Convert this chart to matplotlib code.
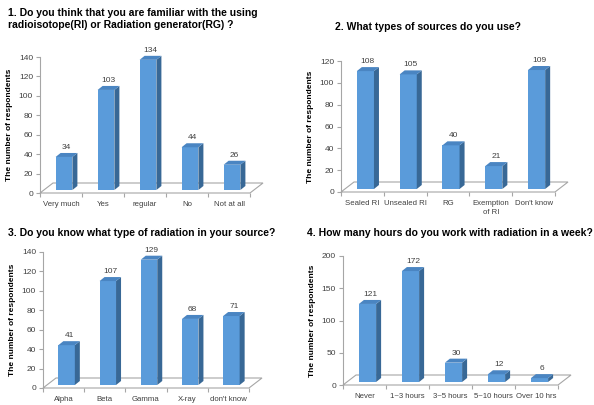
import numpy as np
from matplotlib import pyplot as plt
from matplotlib.patches import Polygon

# Survey answers, one list per question
q1_labels = ['Very much', 'Yes', 'regular', 'No', 'Not at all']
q1_values = [34, 103, 134, 44, 26]

q2_labels = ['Sealed RI', 'Unsealed RI', 'RG', 'Exemption\nof RI', "Don't know"]
q2_values = [108, 105, 40, 21, 109]

q3_labels = ['Alpha', 'Beta', 'Gamma', 'X-ray', "don't know"]
q3_values = [41, 107, 129, 68, 71]

q4_labels = ['Never', '1~3 hours', '3~5 hours', '5~10 hours', 'Over 10 hrs']
q4_values = [121, 172, 30, 12, 6]

W, H = 594, 405
FRONT = '#5a9bda'
SIDE = '#386896'
TOP = '#4a85c2'
AXIS = '#a6a6a6'
TXT = '#404040'

plt.rcParams['font.family'] = ['Liberation Sans', 'DejaVu Sans']

fig = plt.figure(figsize=(W/100., H/100.), dpi=100)


def px_box(l, t, r, b):
    return [l/W, 1 - b/H, (r - l)/W, (b - t)/H]


def bars_3d(box, labels, values, ymax, ystep, title, title_xy):
    l, t, r, b = box
    ax = fig.add_axes(px_box(l, t, r, b))
    n = len(values)
    ax.set_xlim(-0.5, n - 0.5)
    ax.set_ylim(0, ymax)
    # pixel -> data unit conversion for the fake depth
    sx = (r - l) / n
    sy = (b - t) / ymax
    fdx, fdy = 13 / sx, 10 / sy     # floor depth
    ox, oy = 3 / sx, 3 / sy         # bar offset into the floor
    bdx, bdy = 5 / sx, 4 / sy       # bar depth
    w = 0.4

    # floor
    floor = Polygon([(-0.5, 0), (n - 0.5, 0), (n - 0.5 + fdx, fdy), (-0.5 + fdx, fdy)],
                    closed=True, facecolor='white', edgecolor=AXIS, lw=0.8, clip_on=False)
    ax.add_patch(floor)

    for i, v in enumerate(values):
        x0 = i - w/2 + ox
        x1 = i + w/2 + ox
        y0 = oy
        y1 = v + oy
        ax.add_patch(Polygon([(x0, y0), (x1, y0), (x1, y1), (x0, y1)], closed=True,
                             facecolor=FRONT, edgecolor='none', clip_on=False, zorder=3))
        ax.add_patch(Polygon([(x1, y0), (x1 + bdx, y0 + bdy), (x1 + bdx, y1 + bdy), (x1, y1)],
                             closed=True, facecolor=SIDE, edgecolor='none', clip_on=False, zorder=3))
        ax.add_patch(Polygon([(x0, y1), (x1, y1), (x1 + bdx, y1 + bdy), (x0 + bdx, y1 + bdy)],
                             closed=True, facecolor=TOP, edgecolor='none', clip_on=False, zorder=3))
        ax.text(i + ox + bdx/2, y1 + bdy + 2/sy, str(v), ha='center', va='bottom',
                fontsize=6, color=TXT)

    for s in ['top', 'right', 'bottom']:
        ax.spines[s].set_visible(False)
    ax.spines['left'].set_color(AXIS)
    ax.spines['left'].set_linewidth(0.8)
    ax.set_yticks(np.arange(0, ymax + 1, ystep))
    ax.tick_params(axis='y', labelsize=6, colors=AXIS, labelcolor=TXT, length=3, width=0.8, pad=2)
    # category boundary ticks below the floor
    ax.set_xticks(np.arange(-0.5, n, 1.0))
    ax.set_xticks(np.arange(n), minor=True)
    ax.set_xticklabels([])
    ax.set_xticklabels(labels, minor=True)
    ax.tick_params(axis='x', which='major', length=3, width=0.8, colors=AXIS)
    ax.tick_params(axis='x', which='minor', length=0, labelsize=5.6, labelcolor=TXT, pad=6)
    for lab in ax.get_xticklabels(minor=True):
        lab.set_linespacing(1.4)
    ax.set_ylabel('The number of respondents', fontsize=6, fontweight='bold', labelpad=4)
    fig.text(title_xy[0]/W, 1 - title_xy[1]/H, title, fontsize=7.5, fontweight='bold',
             ha='left', va='top', linespacing=1.2)
    return ax


bars_3d((40, 57, 250, 193), q1_labels, q1_values, 140, 20,
        '1. Do you think that you are familiar with the using\n'
        'radioisotope(RI) or Radiation generator(RG) ?', (8, 8))
bars_3d((341, 61, 555, 192), q2_labels, q2_values, 120, 20,
        '2. What types of sources do you use?', (335, 22))
bars_3d((43, 252, 249, 388), q3_labels, q3_values, 140, 20,
        '3. Do you know what type of radiation in your source?', (8, 228))
bars_3d((343, 256, 558, 385), q4_labels, q4_values, 200, 50,
        '4. How many hours do you work with radiation in a week?', (307, 228))

fig.savefig('out.png', dpi=100)
